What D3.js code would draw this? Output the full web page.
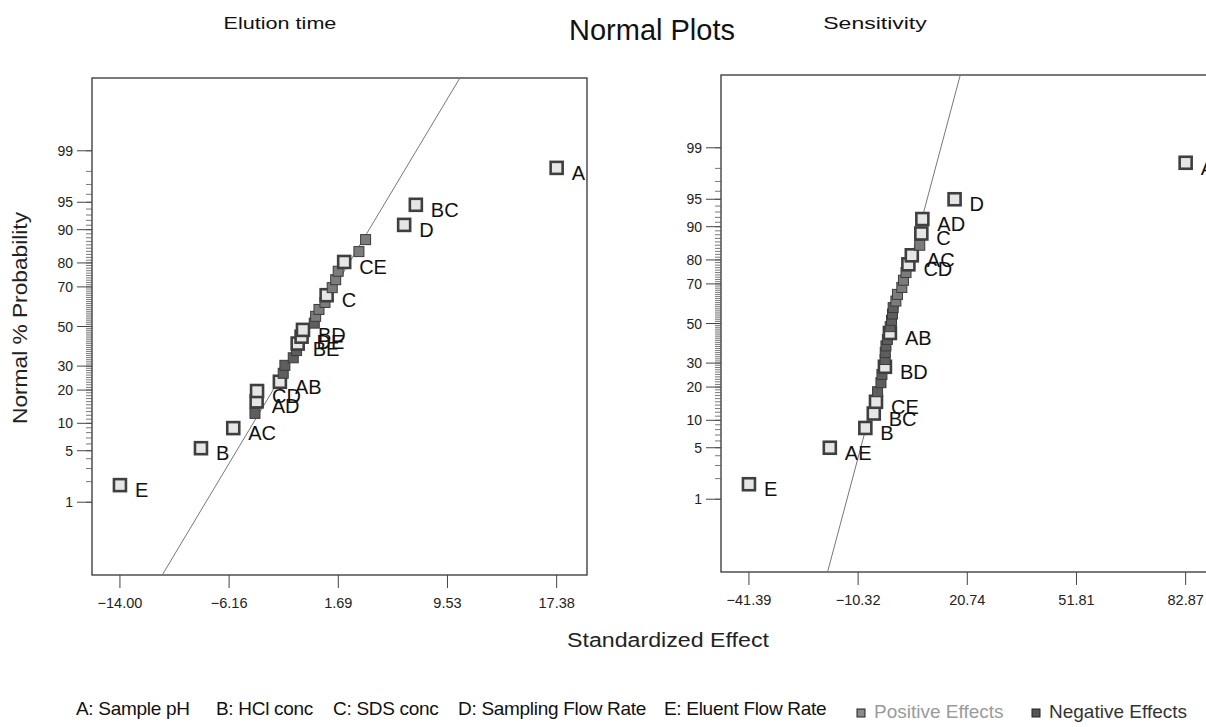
<!DOCTYPE html>
<html>
<head>
<meta charset="utf-8">
<script src="https://cdn.jsdelivr.net/npm/d3@7"></script>
<style>
  body { margin: 0; background: #fff; }
  text { font-family: "Liberation Sans", Arial, sans-serif; }
</style>
</head>
<body>
<svg id="chart" width="1206" height="727"></svg>
<script>
// ---- data ----
const titleText = "Normal Plots";
const panelTitles = ["Elution time", "Sensitivity"];
const yAxisTitle = "Normal % Probability";
const xAxisTitle = "Standardized Effect";

// standardized effects, sorted ascending; "" = unlabeled (error) effect
const elutionEffects = [-14.002, -8.18, -5.86, -4.30, -4.18, -4.15, -2.51, -2.27, -2.15, -1.55,
  -1.31, -1.23, -0.95, -0.85, -0.04, 0.06, 0.30, 0.73, 0.85, 1.25,
  1.50, 1.68, 2.11, 3.17, 3.65, 6.42, 7.26, 17.378];
const elutionLabels = ["E", "B", "AC", "", "AD", "CD", "AB", "", "", "",
  "", "BE", "DE", "BD", "", "", "", "", "C", "",
  "", "", "CE", "", "", "D", "BC", "A"];
const elutionFit = { mean: -0.27, sd: 3.25 };

const sensitivityEffects = [-41.39, -18.38, -8.27, -5.87, -5.24, -4.79, -3.83, -3.55, -2.70, -2.65,
  -2.61, -2.41, -2.00, -1.28, -1.20, -0.83, -0.55, -0.35, 0.42, 0.87,
  2.11, 2.57, 3.30, 3.98, 4.95, 7.21, 7.66, 7.95, 17.12, 82.87];
const sensitivityLabels = ["E", "AE", "B", "BC", "CE", "", "", "", "BD", "",
  "", "", "", "AB", "", "", "", "", "", "",
  "", "", "", "CD", "AC", "", "C", "AD", "D", "A"];
const sensitivityFit = { mean: -0.14, sd: 5.74 };

const probMajor = [1, 5, 10, 20, 30, 50, 70, 80, 90, 95, 99];
const probMinor = d3.range(1, 100);

const factorKey = ["A: Sample pH", "B: HCl conc", "C: SDS conc", "D: Sampling Flow Rate", "E: Eluent Flow Rate"];
const effectKey = ["Positive Effects", "Negative Effects"];

// ---- inverse normal cdf (Acklam) ----
function probit(p) {
  const a = [-3.969683028665376e+01, 2.209460984245205e+02, -2.759285104469687e+02, 1.383577518672690e+02, -3.066479806614716e+01, 2.506628277459239e+00];
  const b = [-5.447609879822406e+01, 1.615858368580409e+02, -1.556989798598866e+02, 6.680131188771972e+01, -1.328068155288572e+01];
  const c = [-7.784894002430293e-03, -3.223964580411365e-01, -2.400758277161838e+00, -2.549732539343734e+00, 4.374664141464968e+00, 2.938163982698783e+00];
  const d = [7.784695709041462e-03, 3.224671290700398e-01, 2.445134137142996e+00, 3.754408661907416e+00];
  const plow = 0.02425;
  let q, r;
  if (p < plow) {
    q = Math.sqrt(-2 * Math.log(p));
    return (((((c[0]*q+c[1])*q+c[2])*q+c[3])*q+c[4])*q+c[5]) / ((((d[0]*q+d[1])*q+d[2])*q+d[3])*q+1);
  }
  if (p <= 1 - plow) {
    q = p - 0.5; r = q * q;
    return (((((a[0]*r+a[1])*r+a[2])*r+a[3])*r+a[4])*r+a[5])*q / (((((b[0]*r+b[1])*r+b[2])*r+b[3])*r+b[4])*r+1);
  }
  q = Math.sqrt(-2 * Math.log(1 - p));
  return -(((((c[0]*q+c[1])*q+c[2])*q+c[3])*q+c[4])*q+c[5]) / ((((d[0]*q+d[1])*q+d[2])*q+d[3])*q+1);
}

const svg = d3.select("#chart");
const zMax = 3.29;

svg.append("text").attr("x", 652).attr("y", 40).attr("text-anchor", "middle")
  .attr("font-size", 29).attr("fill", "#111").text(titleText);

function drawPanel(opt) {
  const { left, top, w, h, effects, labels, fit, title, titleX, clipId } = opt;
  const g = svg.append("g");
  const lo = d3.min(effects), hi = d3.max(effects);
  const span = hi - lo;
  const x = d3.scaleLinear().domain([lo - span * 0.064, hi + span * 0.0695]).range([left, left + w]);
  const z = d3.scaleLinear().domain([-zMax, zMax]).range([top + h, top]);
  const yProb = pct => z(probit(pct / 100));
  const n = effects.length;

  g.append("text").attr("x", titleX).attr("y", 29).attr("text-anchor", "middle")
    .attr("font-size", 17).attr("fill", "#111")
    .attr("textLength", title.length * 9.4).attr("lengthAdjust", "spacingAndGlyphs").text(title);

  // frame
  g.append("rect").attr("x", left).attr("y", top).attr("width", w).attr("height", h)
    .attr("fill", "none").attr("stroke", "#333").attr("stroke-width", 1.3);

  // y ticks
  g.selectAll("line.minor").data(probMinor).join("line").attr("class", "minor")
    .attr("x1", left - 6).attr("x2", left).attr("y1", d => yProb(d)).attr("y2", d => yProb(d))
    .attr("stroke", "#555").attr("stroke-width", 0.8);
  g.selectAll("line.major").data(probMajor).join("line").attr("class", "major")
    .attr("x1", left - 15).attr("x2", left).attr("y1", d => yProb(d)).attr("y2", d => yProb(d))
    .attr("stroke", "#444").attr("stroke-width", 1);
  g.selectAll("text.ylab").data(probMajor).join("text").attr("class", "ylab")
    .attr("x", left - 19).attr("y", d => yProb(d) + 5).attr("text-anchor", "end")
    .attr("font-size", 14).attr("fill", "#222").text(d => d);

  // x ticks at min .. max in quarters
  const xt = d3.range(5).map(k => lo + k * span / 4);
  g.selectAll("line.xt").data(xt).join("line").attr("class", "xt")
    .attr("x1", d => x(d)).attr("x2", d => x(d)).attr("y1", top + h).attr("y2", top + h + 13)
    .attr("stroke", "#444");
  g.selectAll("text.xl").data(xt).join("text").attr("class", "xl")
    .attr("x", d => x(d)).attr("y", top + h + 33).attr("text-anchor", "middle")
    .attr("font-size", 14.5).attr("fill", "#222").text(d => d3.format(".2f")(d));

  // fitted line
  svg.append("clipPath").attr("id", clipId).append("rect")
    .attr("x", left).attr("y", top).attr("width", w).attr("height", h);
  g.append("line").attr("clip-path", `url(#${clipId})`)
    .attr("x1", x(fit.mean - fit.sd * zMax)).attr("y1", z(-zMax))
    .attr("x2", x(fit.mean + fit.sd * zMax)).attr("y2", z(zMax))
    .attr("stroke", "#777").attr("stroke-width", 1);

  const pts = effects.map((v, i) => ({ v, label: labels[i], pct: (i + 0.5) / n * 100 }));

  // points
  g.selectAll("rect.pt").data(pts).join("rect").attr("class", "pt")
    .attr("x", d => x(d.v) - (d.label ? 6 : 5))
    .attr("y", d => yProb(d.pct) - (d.label ? 6 : 5))
    .attr("width", d => d.label ? 12 : 10).attr("height", d => d.label ? 12 : 10)
    .attr("fill", d => d.label ? "#e6e6e6" : (d.v > 0 ? "#7c7c7c" : "#5e5e5e"))
    .attr("stroke", d => d.label ? "#3f3f3f" : "#3a3a3a")
    .attr("stroke-width", d => d.label ? 2.6 : 1);

  g.selectAll("text.plab").data(pts.filter(d => d.label)).join("text").attr("class", "plab")
    .attr("x", d => x(d.v) + 15).attr("y", d => yProb(d.pct) + 12)
    .attr("font-size", 20).attr("fill", "#111").text(d => d.label);
}

drawPanel({ left: 92, top: 78, w: 495, h: 497, effects: elutionEffects, labels: elutionLabels,
  fit: elutionFit, title: panelTitles[0], titleX: 280, clipId: "c1" });
drawPanel({ left: 721, top: 75, w: 495, h: 497, effects: sensitivityEffects, labels: sensitivityLabels,
  fit: sensitivityFit, title: panelTitles[1], titleX: 875, clipId: "c2" });

// axis titles
svg.append("text").attr("transform", "translate(27,318) rotate(-90)").attr("text-anchor", "middle")
  .attr("font-size", 20).attr("fill", "#222")
  .attr("textLength", 212).attr("lengthAdjust", "spacingAndGlyphs").text(yAxisTitle);
svg.append("text").attr("x", 668).attr("y", 647).attr("text-anchor", "middle")
  .attr("font-size", 20).attr("fill", "#222")
  .attr("textLength", 202).attr("lengthAdjust", "spacingAndGlyphs").text(xAxisTitle);

// bottom key
const keyY = 715;
const factorX = [76, 216, 333, 458, 664];
svg.selectAll("text.fk").data(factorKey).join("text").attr("class", "fk")
  .attr("x", (d, i) => factorX[i]).attr("y", keyY).attr("font-size", 19)
  .attr("letter-spacing", -0.3).attr("fill", "#111").text(d => d);
const effX = [857, 1032];
const effFill = ["#8a8a8a", "#555"];
const effText = ["#9a9a9a", "#333"];
svg.selectAll("rect.ek").data(effectKey).join("rect").attr("class", "ek")
  .attr("x", (d, i) => effX[i]).attr("y", keyY - 6).attr("width", 8).attr("height", 8)
  .attr("fill", (d, i) => effFill[i]).attr("stroke", "#222").attr("stroke-width", 1);
svg.selectAll("text.ek").data(effectKey).join("text").attr("class", "ek")
  .attr("x", (d, i) => effX[i] + 17).attr("y", keyY + 3).attr("font-size", 19)
  .attr("fill", (d, i) => effText[i]).text(d => d);
</script>
</body>
</html>
